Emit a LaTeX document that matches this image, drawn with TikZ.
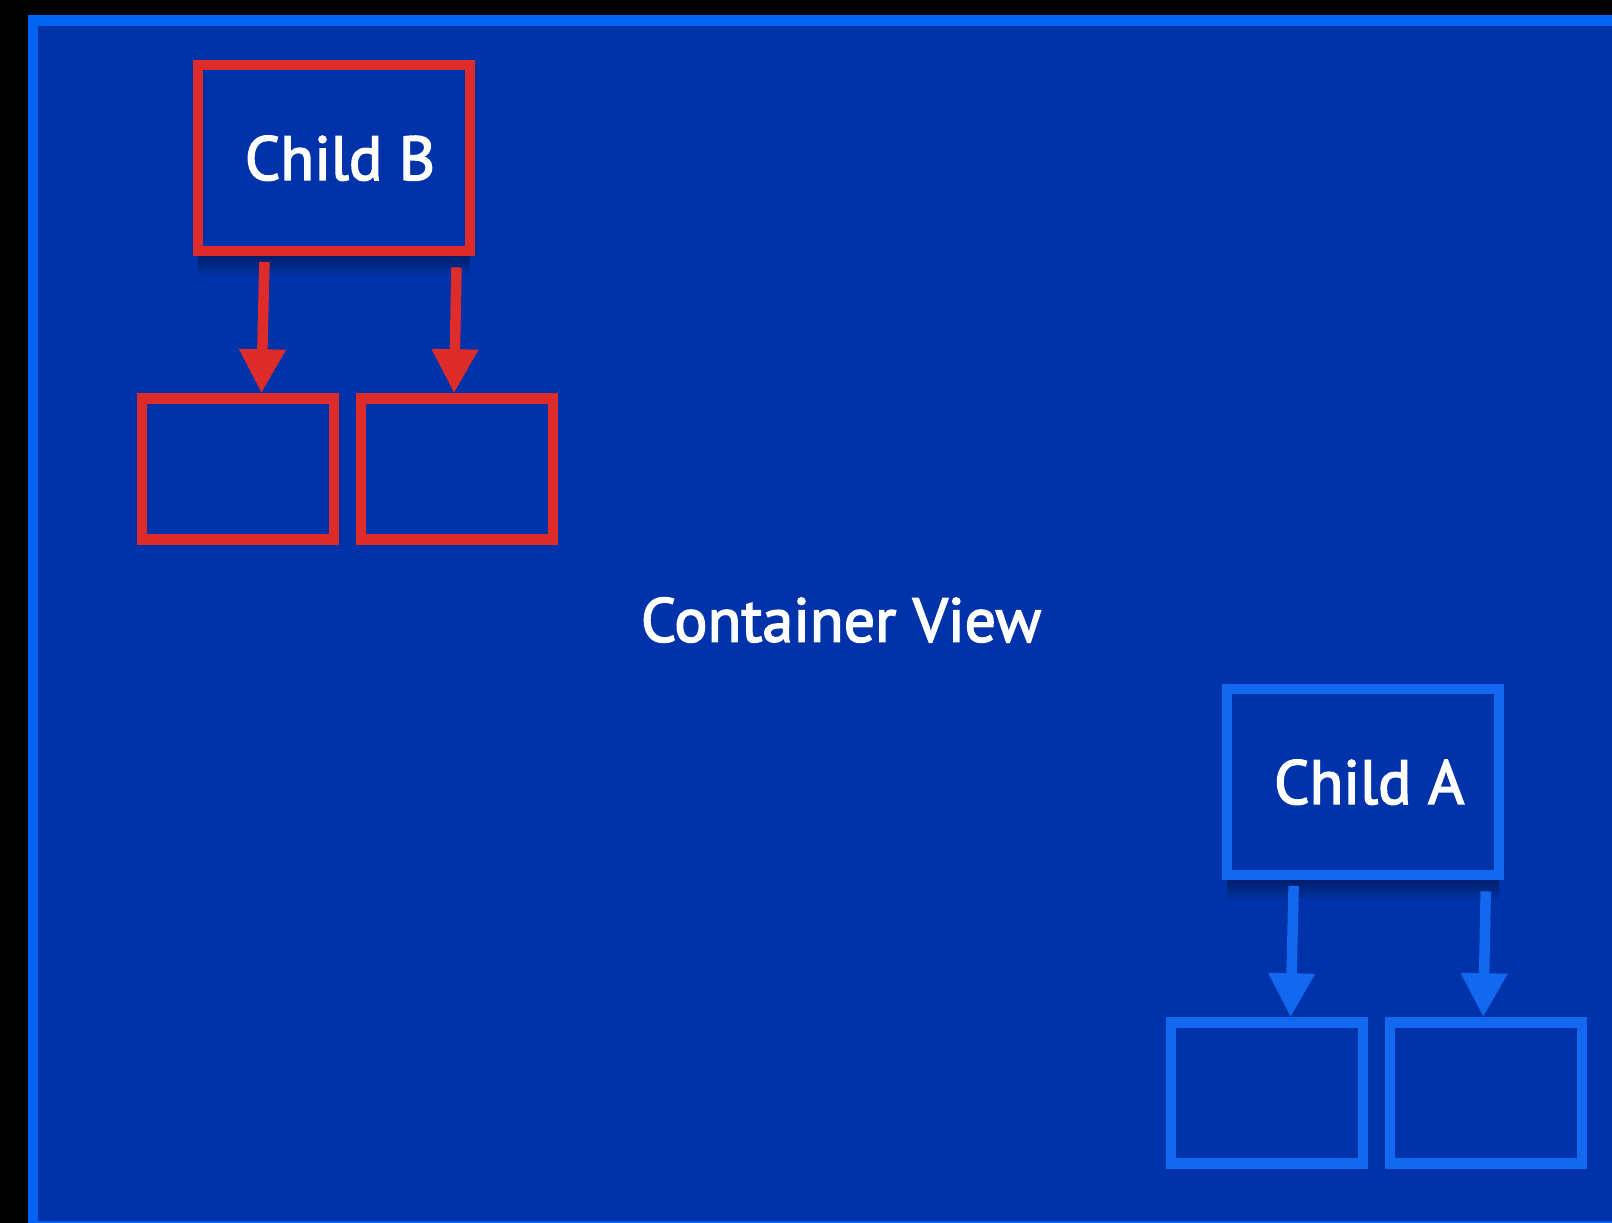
\documentclass[tikz,border=0pt]{standalone}
\usepackage{fontspec}
\setmainfont{PT Sans}
\newfontfamily\labelfont{PT Sans}[FakeBold=2.5]
\usetikzlibrary{arrows.meta,shadows}
\usepackage{xcolor}
\definecolor{viewblue}{RGB}{0,51,170}
\definecolor{edgeblue}{RGB}{0,100,240}
\definecolor{childablue}{RGB}{18,104,238}
\definecolor{childbred}{RGB}{222,44,42}
\tikzset{
  softshadow/.style={drop shadow={shadow xshift=0pt,shadow yshift=-#1,fill=black,opacity=.08}},
  parentbox/.style={draw=#1,line width=10.5pt,fill=viewblue,minimum width=272pt,minimum height=186pt,
    text=white,font=\labelfont\fontsize{62}{68}\selectfont,execute at begin node=\hspace*{12pt},
    softshadow=8pt,softshadow=12pt,softshadow=16pt,softshadow=20pt,softshadow=24pt},
  leafbox/.style={draw=#1,line width=10.5pt,minimum width=192pt,minimum height=141pt},
  linkarrow/.style={draw=#1,line width=10.5pt,-{Triangle[width=44pt,length=44pt,fill=#1]}},
}
\newcommand{\family}[5]{% x y name colour text: box with two leaves
  \node[parentbox=#4] (#3) at (#1,#2) {#5};
  \node[leafbox=#4] (#3l) at (#1-96,#2+310.8) {};
  \node[leafbox=#4] (#3r) at (#1+122.8,#2+310.8) {};
  \draw[linkarrow=#4] ([shift={(-69.6,5.5)}]#3.south) -- ([xshift=23.4pt]#3l.north);
  \draw[linkarrow=#4] ([shift={(122.5,11)}]#3.south) -- ([xshift=-2.7pt]#3r.north);
}

\begin{document}
\begin{tikzpicture}[x=1pt,y=-1pt]
  \useasboundingbox (0,0) rectangle (1612,1223);
  \clip (0,0) rectangle (1612,1223);
  \fill[black] (0,0) rectangle (1612,1223);
  \draw[draw=edgeblue,line width=10.5pt,fill=viewblue] (33,20.4) rectangle (1700,1226);
  \node[anchor=base,text=white,font=\labelfont\fontsize{62}{68}\selectfont] (cview) at (841,641.7) {Container View};
  \family{334}{158.2}{childb}{childbred}{Child B}
  \family{1363.2}{782.2}{childa}{childablue}{Child A}
\end{tikzpicture}
\end{document}
